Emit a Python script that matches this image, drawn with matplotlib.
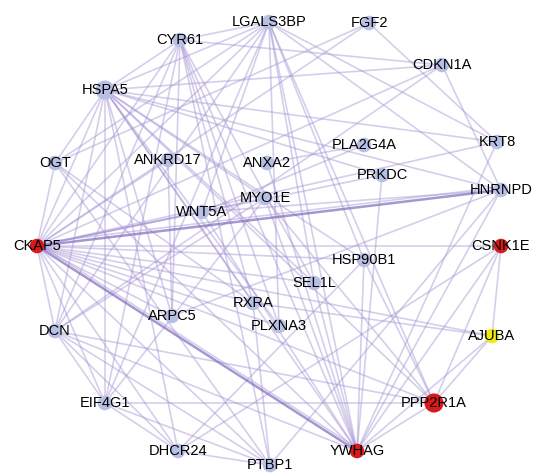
import matplotlib
matplotlib.use("Agg")
import matplotlib.pyplot as plt

# Node layout (canvas units, y grows downward)
names = ["CKAP5", "OGT", "HSPA5", "CYR61", "LGALS3BP", "FGF2", "CDKN1A", "KRT8",
         "HNRNPD", "CSNK1E", "AJUBA", "PPP2R1A", "YWHAG", "PTBP1", "DHCR24",
         "EIF4G1", "DCN", "ANKRD17", "ANXA2", "PLA2G4A", "PRKDC", "MYO1E",
         "WNT5A", "HSP90B1", "SEL1L", "RXRA", "ARPC5", "PLXNA3"]
node_x = [37, 55, 105, 180, 269, 369, 442, 497, 501, 501, 492, 434, 357, 270,
          178, 105, 55, 168, 267, 364, 382, 265, 202, 364, 314, 253, 172, 279]
node_y = [246, 163, 90, 40, 22, 23, 65, 142, 190, 246, 336, 403, 451, 465,
          451, 403, 331, 160, 163, 145, 175, 198, 212, 260, 283, 303, 316, 326]

# Node groups: 'hub' red, 'key' yellow, everything else default
group = {"CKAP5": "hub", "CSNK1E": "hub", "PPP2R1A": "hub", "YWHAG": "hub",
         "AJUBA": "key"}
big_nodes = ["HSPA5", "PPP2R1A"]

# Interactions
edges = [
    ("CKAP5", "HSPA5"), ("CKAP5", "CYR61"), ("CKAP5", "LGALS3BP"), ("CKAP5", "OGT"),
    ("CKAP5", "DCN"), ("CKAP5", "EIF4G1"), ("CKAP5", "DHCR24"), ("CKAP5", "PTBP1"),
    ("CKAP5", "PPP2R1A"), ("CKAP5", "AJUBA"), ("CKAP5", "CSNK1E"),
    ("CKAP5", "KRT8"), ("CKAP5", "CDKN1A"), ("CKAP5", "FGF2"), ("CKAP5", "ARPC5"),
    ("CKAP5", "RXRA"), ("CKAP5", "WNT5A"), ("CKAP5", "MYO1E"), ("CKAP5", "ANKRD17"),
    ("CKAP5", "SEL1L"), ("CKAP5", "PLXNA3"), ("CKAP5", "HSP90B1"),
    ("HSPA5", "OGT"), ("HSPA5", "DCN"), ("HSPA5", "EIF4G1"), ("HSPA5", "DHCR24"),
    ("HSPA5", "ARPC5"), ("HSPA5", "RXRA"), ("HSPA5", "PLXNA3"), ("HSPA5", "YWHAG"),
    ("HSPA5", "SEL1L"), ("HSPA5", "HSP90B1"), ("HSPA5", "PPP2R1A"),
    ("HSPA5", "HNRNPD"), ("HSPA5", "KRT8"), ("HSPA5", "CDKN1A"),
    ("HSPA5", "LGALS3BP"), ("HSPA5", "CYR61"), ("HSPA5", "MYO1E"), ("HSPA5", "PRKDC"),
    ("LGALS3BP", "CYR61"), ("LGALS3BP", "OGT"), ("LGALS3BP", "KRT8"),
    ("LGALS3BP", "HNRNPD"), ("LGALS3BP", "SEL1L"), ("LGALS3BP", "PLXNA3"),
    ("LGALS3BP", "YWHAG"), ("LGALS3BP", "HSP90B1"), ("LGALS3BP", "PPP2R1A"),
    ("LGALS3BP", "DCN"), ("LGALS3BP", "EIF4G1"), ("LGALS3BP", "WNT5A"),
    ("CYR61", "CDKN1A"), ("CYR61", "DCN"), ("CYR61", "EIF4G1"), ("CYR61", "ARPC5"),
    ("CYR61", "RXRA"), ("CYR61", "YWHAG"), ("CYR61", "PLXNA3"), ("CYR61", "SEL1L"),
    ("CYR61", "PTBP1"),
    ("FGF2", "KRT8"), ("FGF2", "OGT"),
    ("CDKN1A", "HNRNPD"), ("CDKN1A", "DCN"),
    ("KRT8", "YWHAG"),
    ("HNRNPD", "YWHAG"), ("HNRNPD", "PTBP1"), ("HNRNPD", "ARPC5"), ("HNRNPD", "WNT5A"),
    ("CSNK1E", "AJUBA"), ("CSNK1E", "PPP2R1A"), ("CSNK1E", "YWHAG"),
    ("CSNK1E", "DHCR24"),
    ("AJUBA", "PPP2R1A"), ("AJUBA", "YWHAG"), ("AJUBA", "RXRA"),
    ("PPP2R1A", "EIF4G1"), ("PPP2R1A", "YWHAG"), ("PPP2R1A", "HSP90B1"),
    ("PPP2R1A", "MYO1E"), ("PPP2R1A", "DCN"),
    ("YWHAG", "HSP90B1"), ("YWHAG", "PRKDC"), ("YWHAG", "SEL1L"), ("YWHAG", "MYO1E"),
    ("YWHAG", "ANXA2"), ("YWHAG", "WNT5A"), ("YWHAG", "DCN"), ("YWHAG", "OGT"),
    ("PTBP1", "EIF4G1"), ("PTBP1", "DHCR24"), ("PTBP1", "DCN"), ("PTBP1", "RXRA"),
    ("PTBP1", "OGT"),
    ("DHCR24", "EIF4G1"), ("DHCR24", "DCN"), ("DHCR24", "HSP90B1"),
    ("EIF4G1", "DCN"), ("EIF4G1", "MYO1E"),
    ("DCN", "MYO1E"),
    ("OGT", "RXRA"),
    ("ANKRD17", "ARPC5"), ("ANXA2", "PLA2G4A"), ("PLA2G4A", "WNT5A"),
    ("PRKDC", "CKAP5"),
]
strong_edges = [("CKAP5", "YWHAG"), ("CKAP5", "HNRNPD")]

pos = {n: (x, y) for n, x, y in zip(names, node_x, node_y)}

fig = plt.figure(figsize=(5.34, 4.73), dpi=100)
ax = fig.add_axes([0, 0, 1, 1])
ax.set_xlim(0, 534)
ax.set_ylim(473, 0)
ax.axis("off")

edge_color = "#a393d3"
for a, b in edges:
    (x0, y0), (x1, y1) = pos[a], pos[b]
    ax.plot([x0, x1], [y0, y1], color=edge_color, lw=1.2, alpha=0.45,
            solid_capstyle="round", zorder=1)
for a, b in strong_edges:
    (x0, y0), (x1, y1) = pos[a], pos[b]
    ax.plot([x0, x1], [y0, y1], color="#7f6bbd", lw=1.8, alpha=0.7, zorder=1)
    ax.plot([x0, x1], [y0 - 3, y1 - 3], color=edge_color, lw=1.2, alpha=0.45, zorder=1)

colors = {"hub": "#d91a1a", "key": "#ecec12"}
for n in names:
    x, y = pos[n]
    c = colors.get(group.get(n), "#b7c0e2")
    s = 190 if n in big_nodes else 110
    ax.scatter([x], [y], s=s, color=c, edgecolors="none", zorder=2)
    ax.text(x, y, n, ha="center", va="center", fontsize=10.5,
            family="Liberation Sans", color="black", zorder=3)

fig.savefig("out.png", dpi=100)
